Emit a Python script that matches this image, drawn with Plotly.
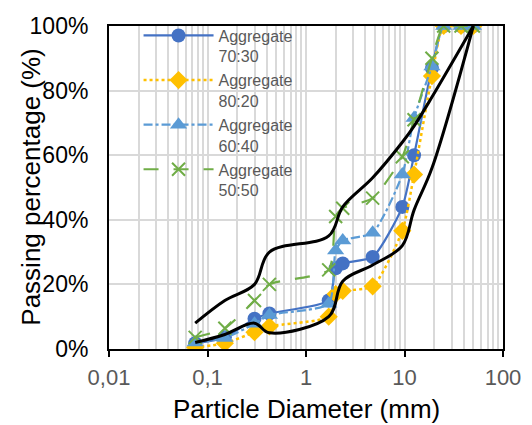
import plotly.graph_objects as go

# Sieve sizes (mm)
sieves = [0.075, 0.15, 0.3, 0.425, 1.7, 2.0, 2.36, 4.75, 9.5, 12.5, 19, 25, 37.5, 50]

agg_70_30 = [1.8, 3.6, 9.4, 11.0, 15.0, 25.0, 26.5, 28.5, 44.0, 60.0, 87.0, 100, 100, 100]
agg_80_20 = [0.5, 1.8, 5.2, 7.0, 10.0, 17.0, 18.0, 19.4, 36.6, 54.0, 84.5, 100, 100, 100]
agg_60_40 = [2.0, 3.4, 7.8, 10.5, 14.0, 30.5, 33.6, 36.0, 54.0, 71.5, 87.5, 100, 100, 100]
agg_50_50 = [3.6, 6.4, 15.0, 20.0, 24.5, 41.0, 43.6, 46.7, 59.5, 71.0, 90.0, 100, 100, 100]

limit_sieves = [0.075, 0.15, 0.3, 0.425, 1.7, 2.36, 4.75, 9.5, 12.5, 19, 50]
upper_limit = [8, 15, 20, 30, 35, 44, 53, 64, 69, 78, 100]
lower_limit = [2, 4.5, 8, 5, 10, 21, 26, 32, 43, 56, 100]

x_tickvals = [0.01, 0.1, 1, 10, 100]
x_ticktext = ["0,01", "0,1", "1", "10", "100"]
y_tickvals = [0, 20, 40, 60, 80, 100]
y_ticktext = ["0%", "20%", "40%", "60%", "80%", "100%"]

FONT = "Liberation Sans, Arial, sans-serif"
GRAY = "#595959"

fig = go.Figure()

series = [
    ("Aggregate<br>70:30", agg_70_30, "#4472C4", "solid", "circle", 14, 2.2),
    ("Aggregate<br>80:20", agg_80_20, "#FFC000", "dot", "diamond", 14, 2.5),
    ("Aggregate<br>60:40", agg_60_40, "#5B9BD5", "dashdot", "triangle-up", 15, 2.2),
    ("Aggregate<br>50:50", agg_50_50, "#70AD47", "longdash", "x-thin-open", 13, 2.2),
]
for name, vals, col, dash, sym, size, w in series:
    fig.add_trace(go.Scatter(
        x=sieves, y=vals, name=name, mode="lines+markers",
        line=dict(color=col, width=w, dash=dash, shape="spline", smoothing=0.6),
        marker=dict(symbol=sym, size=size, color=col,
                    line=dict(color=col, width=2 if sym.startswith("x") else 0)),
    ))

for vals in (upper_limit, lower_limit):
    fig.add_trace(go.Scatter(
        x=limit_sieves, y=vals, mode="lines", showlegend=False,
        line=dict(color="black", width=3, shape="spline", smoothing=1.0),
        hoverinfo="skip",
    ))

fig.update_layout(
    width=524, height=417,
    margin=dict(l=101, r=29, t=11, b=76),
    paper_bgcolor="white", plot_bgcolor="white",
    font=dict(family=FONT, size=17, color="black"),
    legend=dict(
        x=0.075, y=1.023, xanchor="left", yanchor="top",
        bgcolor="rgba(0,0,0,0)", borderwidth=0,
        font=dict(family=FONT, size=16, color=GRAY),
        itemwidth=70, valign="top", tracegroupgap=0,
    ),
    shapes=[dict(
        type="rect", xref="paper", yref="paper",
        x0=0.02, x1=0.59, y0=0.44, y1=0.99,
        fillcolor="white", line=dict(width=0), layer="between",
    )],
    xaxis=dict(
        type="log", range=[-2, 2], automargin=False,
        tickvals=x_tickvals, ticktext=x_ticktext,
        tickfont=dict(color=GRAY, size=22),
        ticks="outside", ticklen=6, tickwidth=2, tickcolor="black",
        ticklabelstandoff=2,
        showline=True, linecolor="black", linewidth=2, mirror=True,
        showgrid=True, gridcolor="#D9D9D9", gridwidth=1.5,
        minor=dict(showgrid=True, gridcolor="#D9D9D9", gridwidth=1.5,
                   ticks="", dtick="D1"),
        zeroline=False,
    ),
    yaxis=dict(
        range=[0, 100], automargin=False,
        tickvals=y_tickvals, ticktext=y_ticktext,
        tickfont=dict(color="black", size=23),
        ticklabelstandoff=14,
        showline=True, linecolor="black", linewidth=2, mirror=True,
        showgrid=True, gridcolor="#D9D9D9", gridwidth=1.5,
        zeroline=False, ticks="",
    ),
    annotations=[
        dict(text="Particle Diameter (mm)", xref="paper", yref="paper",
             x=0.5, y=-0.185, xanchor="center", yanchor="middle",
             showarrow=False, font=dict(size=26, color="black")),
        dict(text="Passing percentage (%)", xref="paper", yref="paper",
             x=-0.2, y=0.5, xanchor="center", yanchor="middle", textangle=-90,
             showarrow=False, font=dict(size=26, color="black")),
    ],
)

fig.write_html("out.html")
